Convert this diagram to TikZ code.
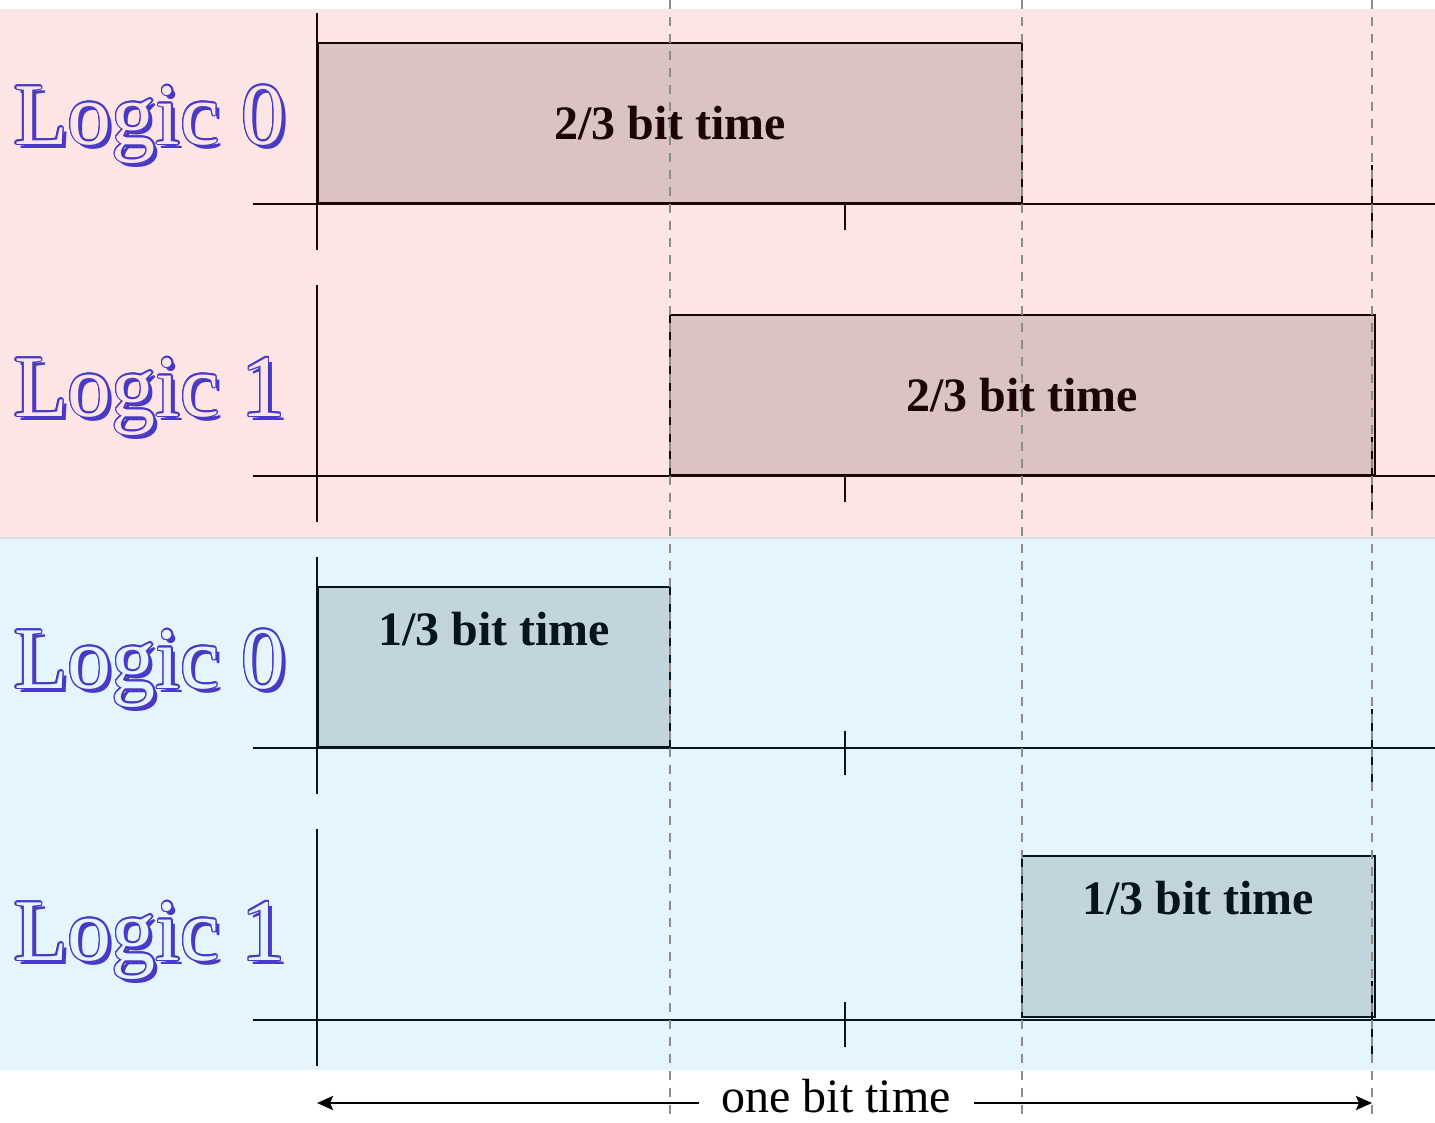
\documentclass[tikz,border=0pt]{standalone}
\usepackage{fontspec}
\setmainfont{Liberation Serif}
\usetikzlibrary{arrows.meta}
\definecolor{pinkbg}{RGB}{253,229,229}
\definecolor{bluebg}{RGB}{228,245,253}
\definecolor{pinkbox}{RGB}{219,195,196}
\definecolor{bluebox}{RGB}{195,213,220}
\definecolor{logicblue}{RGB}{72,58,196}
\definecolor{inkr}{RGB}{26,6,6}
\definecolor{inkb}{RGB}{6,20,28}
\definecolor{dashgray}{RGB}{140,140,140}
\definecolor{sepcol}{RGB}{222,222,230}
\tikzset{
  lgtext/.style={font=\fontsize{88}{92}\selectfont, inner sep=0pt, anchor=base west},
  boxtext/.style={font=\bfseries\fontsize{48}{52}\selectfont, inner sep=0pt, anchor=base, text=#1},
  databox/.style={draw=#1, line width=2.4pt, inner sep=0pt, anchor=south west},
  axisline/.style={draw=#1, line width=2.4pt},
  dashline/.style={draw=dashgray, line width=2pt, dash pattern=on 9pt off 8pt},
  arr/.style={draw=black, line width=2.4pt, -{Stealth[length=16pt,width=14pt,inset=3pt]}}
}
\newcommand{\logiclabel}[5]{%
  \node[lgtext, text=logicblue] at (#2+4,#3+4) {#4};
  \foreach \a in {0,22.5,...,337.5}
    \node[lgtext, text=logicblue, shift={(\a:1.4)}] at (#2,#3) {#4};
  \node[lgtext, text=#5] (#1) at (#2,#3) {#4};
}
\begin{document}
\begin{tikzpicture}[x=1pt,y=-1pt]
\useasboundingbox (0,0) rectangle (1435,1122);
% backgrounds
\fill[pinkbg] (0,9) rectangle (1435,537);
\fill[bluebg] (0,539) rectangle (1435,1070);
\draw[sepcol, line width=2.5pt] (0,538) -- (1435,538);
% boxes
\node[databox=inkr, fill=pinkbox, minimum width=704pt, minimum height=160pt] (b1) at (317,204) {};
\node[databox=inkr, fill=pinkbox, minimum width=705pt, minimum height=160pt] (b2) at (669,476) {};
\node[databox=inkb, fill=bluebox, minimum width=352pt, minimum height=160pt] (b3) at (317,748) {};
\node[databox=inkb, fill=bluebox, minimum width=353pt, minimum height=161pt] (b4) at (1021,1018) {};
% axes and ticks
\foreach \r/\ink in {0/inkr,1/inkr,2/inkb,3/inkb}{
  \pgfmathsetmacro{\yz}{204+272*\r}
  \draw[axisline=\ink] (253,\yz) -- (1435,\yz);
  \draw[axisline=\ink] (317,\yz-191) -- (317,\yz+46);
  \draw[axisline=\ink] (1372,\yz-39) -- (1372,\yz+38);
}
\draw[axisline=inkr] (845,204) -- (845,230);
\draw[axisline=inkr] (845,476) -- (845,502);
\draw[axisline=inkb] (845,731) -- (845,775);
\draw[axisline=inkb] (845,1002) -- (845,1047);
% box texts
\node[boxtext=inkr] (t1) at (670,139) {2/3 bit time};
\node[boxtext=inkr] (t2) at (1022,411) {2/3 bit time};
\node[boxtext=inkb] (t3) at (494,645) {1/3 bit time};
\node[boxtext=inkb] (t4) at (1198,914) {1/3 bit time};
% logic labels
\logiclabel{l1}{14}{144}{Logic 0}{pinkbg}
\logiclabel{l2}{14}{416}{Logic 1}{pinkbg}
\logiclabel{l3}{14}{688}{Logic 0}{bluebg}
\logiclabel{l4}{14}{960}{Logic 1}{bluebg}
% one bit time
\node[font=\fontsize{48}{52}\selectfont, inner sep=0pt, anchor=base] (ob) at (836,1112) {one bit time};
\coordinate (aL) at (317,1103);
\coordinate (aR) at (1372,1103);
\coordinate (lend) at ([xshift=-22pt]ob.west);
\coordinate (rend) at ([xshift=23pt]ob.east);
\draw[arr] (lend |- aL) -- (aL);
\draw[arr] (rend |- aR) -- (aR);
% dashed guides
\draw[dashline] (670,0) -- (670,1117);
\draw[dashline] (1022,0) -- (1022,1117);
\draw[dashline] (1372,0) -- (1372,1117);
\end{tikzpicture}
\end{document}
